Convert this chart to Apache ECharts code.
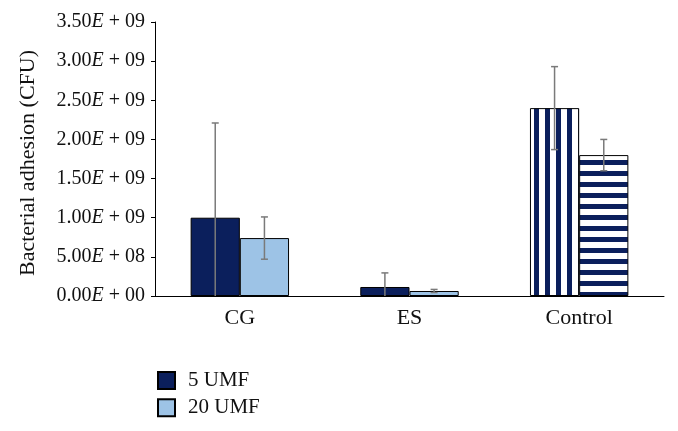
<!DOCTYPE html>
<html>
<head>
<meta charset="utf-8">
<script src="https://cdn.jsdelivr.net/npm/echarts@6/dist/echarts.min.js"></script>
<style>html,body{margin:0;padding:0;background:#fff}#c{width:678px;height:431px}</style>
</head>
<body>
<div id="c"></div>
<script>
const categories = ['CG', 'ES', 'Control'];
const seriesNames = ['5 UMF', '20 UMF'];
const umf5 = [1.0e9, 0.115e9, 2.4e9];
const umf20 = [0.74e9, 0.064e9, 1.8e9];
const err5 = [1.21e9, 0.18e9, 0.53e9];
const err20 = [0.27e9, 0.02e9, 0.2e9];
const yTicks = [0, 5e8, 1e9, 1.5e9, 2e9, 2.5e9, 3e9, 3.5e9];
const yName = 'Bacterial adhesion (CFU)';

const NAVY = '#0b1f5c';
const LIGHT = '#9dc3e6';
const FONT = 'Liberation Serif';

function stripes(vertical) {
  const c = document.createElement('canvas');
  c.width = 11; c.height = 11;
  const ctx = c.getContext('2d');
  ctx.fillStyle = '#ffffff';
  ctx.fillRect(0, 0, 11, 11);
  ctx.fillStyle = NAVY;
  if (vertical) ctx.fillRect(6, 0, 5, 11); else ctx.fillRect(0, 6, 11, 5);
  return { image: c, repeat: 'repeat' };
}

function fmt(v) {
  if (v === 0) return '0.00{i|E}{p|+}00';
  const exp = Math.floor(Math.log10(v) + 1e-9);
  const m = v / Math.pow(10, exp);
  return m.toFixed(2) + '{i|E}{p|+}' + String(exp).padStart(2, '0');
}

const BAR_FRAC = 0.29;
const barBorder = { borderColor: '#000', borderWidth: 1 };

const data5 = umf5.map((v, i) => i === 2 ? { value: v, itemStyle: { color: stripes(true) } } : v);
const data20 = umf20.map((v, i) => i === 2 ? { value: v, itemStyle: { color: stripes(false) } } : v);

function errSeries(vals, errs, side) {
  return {
    type: 'custom',
    z: 10,
    silent: true,
    data: vals.map((v, i) => [i, v, errs[i]]),
    renderItem: function (params, api) {
      const band = api.size([1, 0])[0];
      const off = side * band * BAR_FRAC / 2;
      const v = api.value(1), e = api.value(2);
      const x = api.coord([api.value(0), 0])[0] + off;
      const yT = api.coord([api.value(0), v + e])[1];
      const lo = Math.max(0, v - e);
      const yB = api.coord([api.value(0), lo])[1];
      const st = { stroke: '#7a7a7a', lineWidth: 1.5 };
      const ch = [
        { type: 'line', shape: { x1: x, y1: yT, x2: x, y2: yB }, style: st },
        { type: 'line', shape: { x1: x - 3.5, y1: yT, x2: x + 3.5, y2: yT }, style: st }
      ];
      if (lo > 0) ch.push({ type: 'line', shape: { x1: x - 3.5, y1: yB, x2: x + 3.5, y2: yB }, style: st });
      return { type: 'group', children: ch };
    }
  };
}

const chart = echarts.init(document.getElementById('c'));
chart.setOption({
  animation: false,
  textStyle: { fontFamily: FONT },
  grid: { left: 155, right: 14, top: 22, bottom: 135, containLabel: false, outerBoundsMode: 'none' },
  legend: {
    data: seriesNames,
    orient: 'vertical',
    left: 157, top: 370,
    padding: 0,
    itemWidth: 17, itemHeight: 17, itemGap: 6.3,
    icon: 'rect',
    textStyle: { fontFamily: FONT, fontSize: 21, lineHeight: 17, color: '#111', padding: [0, 0, 0, 8] }
  },
  xAxis: {
    type: 'category',
    data: categories,
    axisLine: { lineStyle: { color: '#000', width: 1 } },
    axisTick: { show: false },
    axisLabel: { fontFamily: FONT, fontSize: 22, color: '#111', margin: 11 }
  },
  yAxis: {
    type: 'value',
    min: yTicks[0], max: yTicks[yTicks.length - 1], interval: yTicks[1] - yTicks[0],
    name: yName,
    nameLocation: 'middle',
    nameGap: 116,
    nameTextStyle: { fontFamily: FONT, fontSize: 22, color: '#111', padding: [0, 8, 0, 0] },
    axisLine: { show: true, lineStyle: { color: '#000', width: 1 } },
    axisTick: { show: true, length: 4, lineStyle: { color: '#000' } },
    splitLine: { show: false },
    axisLabel: {
      fontFamily: FONT, fontSize: 20, color: '#111', margin: 10,
      formatter: fmt,
      rich: {
        i: { fontFamily: FONT, fontSize: 20, fontStyle: 'italic', color: '#111' },
        p: { fontFamily: FONT, fontSize: 20, color: '#111', padding: [0, 5, 0, 5] }
      }
    }
  },
  series: [
    { name: seriesNames[0], type: 'bar', data: data5, barWidth: (BAR_FRAC * 100) + '%', barGap: '0%',
      itemStyle: Object.assign({ color: NAVY }, barBorder) },
    { name: seriesNames[1], type: 'bar', data: data20, barWidth: (BAR_FRAC * 100) + '%', barGap: '0%',
      itemStyle: Object.assign({ color: LIGHT }, barBorder) },
    errSeries(umf5, err5, -1),
    errSeries(umf20, err20, 1)
  ]
});
</script>
</body>
</html>
